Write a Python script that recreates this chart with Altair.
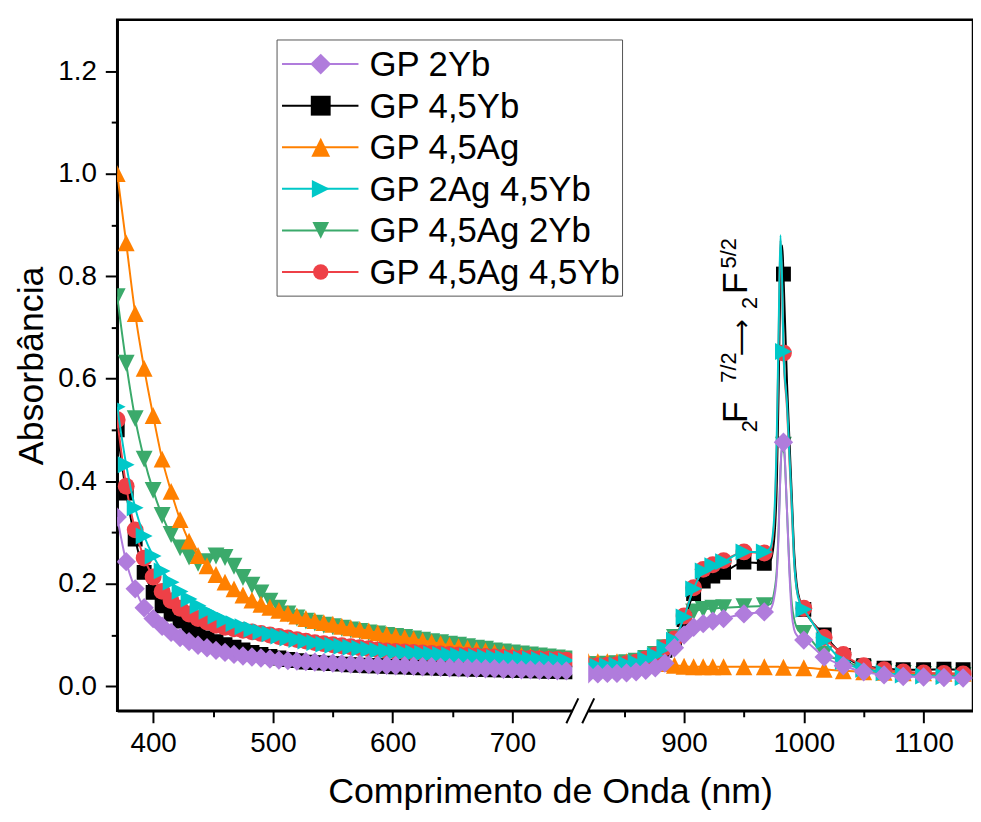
import altair as alt
import pandas as pd

# ---------------- data ----------------
SERIES = ["GP 2Yb", "GP 4,5Yb", "GP 4,5Ag", "GP 2Ag 4,5Yb", "GP 4,5Ag 2Yb", "GP 4,5Ag 4,5Yb"]
COLORS = ["#B07CDC", "#000000", "#FF8000", "#00C8C8", "#3BAA6B", "#EE4047"]
SHAPES = ["diamond", "square", "M0,-1L1,1L-1,1Z", "M-1,-1L1,0L-1,1Z", "M-1,-1L1,-1L0,1Z", "circle"]
SIZES = [380, 225, 289, 289, 289, 289]
LEGEND_SIZES = [440, 240, 320, 320, 320, 300]
DRAW_ORDER = ["GP 4,5Ag 2Yb", "GP 4,5Ag", "GP 4,5Yb", "GP 4,5Ag 4,5Yb", "GP 2Ag 4,5Yb", "GP 2Yb"]

LEFT_NM = [370 + 7.5 * i for i in range(51)]
RIGHT_NM = [820, 828, 836, 844, 852, 860, 868, 876, 884, 892, 900, 908, 916, 924, 933,
            950, 967, 983, 1000, 1017, 1033, 1050, 1067, 1083, 1100, 1117, 1133]
PEAK_NM = [972, 975, 977.5, 979, 980.5, 982, 986, 988, 990, 992, 994, 997]

A_LEFT = {
    "GP 2Yb": [0.330, 0.243, 0.190, 0.153, 0.132, 0.117, 0.105, 0.095, 0.087, 0.080,
               0.075, 0.070, 0.066, 0.062, 0.059, 0.057, 0.055, 0.053, 0.051, 0.050,
               0.049, 0.048, 0.047, 0.046, 0.045, 0.044, 0.043, 0.043, 0.042, 0.041,
               0.041, 0.040, 0.040, 0.039, 0.038, 0.038, 0.037, 0.036, 0.036, 0.035,
               0.035, 0.034, 0.034, 0.033, 0.033, 0.032, 0.032, 0.031, 0.031, 0.030, 0.030],
    "GP 4,5Yb": [0.500, 0.377, 0.287, 0.222, 0.183, 0.157, 0.141, 0.127, 0.114, 0.103,
                 0.094, 0.087, 0.081, 0.076, 0.071, 0.066, 0.062, 0.058, 0.055, 0.052,
                 0.050, 0.047, 0.046, 0.045, 0.044, 0.043, 0.042, 0.041, 0.040, 0.040,
                 0.039, 0.038, 0.038, 0.037, 0.036, 0.036, 0.035, 0.035, 0.034, 0.034,
                 0.033, 0.033, 0.032, 0.032, 0.031, 0.031, 0.030, 0.030, 0.029, 0.029, 0.028],
    "GP 4,5Ag": [1.000, 0.865, 0.727, 0.620, 0.528, 0.443, 0.380, 0.325, 0.283, 0.255,
                 0.235, 0.218, 0.203, 0.190, 0.178, 0.168, 0.160, 0.154, 0.148, 0.142,
                 0.137, 0.132, 0.128, 0.124, 0.121, 0.117, 0.114, 0.111, 0.108, 0.104,
                 0.101, 0.098, 0.095, 0.092, 0.089, 0.086, 0.083, 0.080, 0.077, 0.074,
                 0.071, 0.069, 0.066, 0.064, 0.062, 0.060, 0.058, 0.056, 0.054, 0.052, 0.050],
    "GP 2Ag 4,5Yb": [0.545, 0.432, 0.348, 0.293, 0.254, 0.225, 0.203, 0.185, 0.170, 0.157,
                     0.146, 0.137, 0.129, 0.122, 0.116, 0.111, 0.106, 0.102, 0.098, 0.094,
                     0.091, 0.088, 0.085, 0.082, 0.080, 0.078, 0.076, 0.074, 0.072, 0.070,
                     0.069, 0.067, 0.066, 0.065, 0.064, 0.063, 0.062, 0.061, 0.060, 0.059,
                     0.058, 0.057, 0.056, 0.055, 0.054, 0.053, 0.053, 0.052, 0.051, 0.051, 0.050],
    "GP 4,5Ag 2Yb": [0.760, 0.630, 0.522, 0.443, 0.382, 0.333, 0.296, 0.270, 0.252, 0.240,
                     0.243, 0.254, 0.251, 0.234, 0.212, 0.197, 0.182, 0.166, 0.152, 0.141,
                     0.133, 0.127, 0.123, 0.119, 0.116, 0.113, 0.110, 0.107, 0.104, 0.102,
                     0.099, 0.097, 0.095, 0.092, 0.090, 0.087, 0.085, 0.082, 0.080, 0.077,
                     0.074, 0.072, 0.069, 0.067, 0.065, 0.063, 0.061, 0.059, 0.057, 0.055, 0.053],
    "GP 4,5Ag 4,5Yb": [0.520, 0.390, 0.305, 0.250, 0.213, 0.185, 0.167, 0.152, 0.141, 0.132,
                       0.125, 0.119, 0.115, 0.112, 0.109, 0.106, 0.103, 0.100, 0.097, 0.094,
                       0.091, 0.088, 0.085, 0.083, 0.081, 0.079, 0.077, 0.075, 0.073, 0.071,
                       0.069, 0.068, 0.067, 0.066, 0.065, 0.064, 0.063, 0.062, 0.061, 0.060,
                       0.059, 0.058, 0.057, 0.056, 0.055, 0.054, 0.054, 0.053, 0.052, 0.052, 0.051],
}

A_RIGHT = {
    "GP 2Yb": [0.024, 0.024, 0.025, 0.025, 0.026, 0.028, 0.031, 0.036, 0.045, 0.075,
               0.100, 0.115, 0.122, 0.127, 0.132, 0.141, 0.145, 0.476, 0.090, 0.057,
               0.040, 0.028, 0.022, 0.019, 0.018, 0.017, 0.016],
    "GP 4,5Yb": [0.036, 0.036, 0.037, 0.038, 0.040, 0.043, 0.048, 0.056, 0.070, 0.090,
                 0.130, 0.181, 0.205, 0.215, 0.222, 0.242, 0.240, 0.804, 0.150, 0.100,
                 0.060, 0.040, 0.035, 0.032, 0.032, 0.033, 0.032],
    "GP 4,5Ag": [0.048, 0.048, 0.048, 0.048, 0.048, 0.048, 0.047, 0.046, 0.044, 0.041,
                 0.039, 0.038, 0.038, 0.038, 0.038, 0.038, 0.038, 0.037, 0.036, 0.033,
                 0.030, 0.028, 0.027, 0.026, 0.026, 0.025, 0.025],
    "GP 2Ag 4,5Yb": [0.038, 0.039, 0.040, 0.041, 0.043, 0.046, 0.052, 0.060, 0.074, 0.090,
                     0.135, 0.190, 0.225, 0.235, 0.243, 0.262, 0.262, 0.653, 0.150, 0.089,
                     0.048, 0.033, 0.026, 0.022, 0.020, 0.019, 0.017],
    "GP 4,5Ag 2Yb": [0.042, 0.042, 0.043, 0.044, 0.046, 0.049, 0.054, 0.062, 0.075, 0.095,
                     0.125, 0.145, 0.150, 0.152, 0.153, 0.155, 0.157, 0.470, 0.103, 0.062,
                     0.050, 0.035, 0.028, 0.025, 0.023, 0.022, 0.021],
    "GP 4,5Ag 4,5Yb": [0.040, 0.040, 0.041, 0.042, 0.044, 0.047, 0.053, 0.061, 0.075, 0.092,
                       0.137, 0.192, 0.228, 0.237, 0.245, 0.262, 0.260, 0.650, 0.152, 0.095,
                       0.062, 0.040, 0.032, 0.028, 0.026, 0.025, 0.024],
}

# line-only points around the Yb3+ peak (no markers there)
A_PEAK = {
    "GP 2Yb": [0.150, 0.170, 0.220, 0.300, 0.420, 0.475, 0.340, 0.220, 0.140, 0.110, 0.100, 0.093],
    "GP 4,5Yb": [0.245, 0.280, 0.400, 0.580, 0.800, 0.860, 0.590, 0.480, 0.370, 0.260, 0.200, 0.165],
    "GP 4,5Ag": [0.038, 0.038, 0.038, 0.038, 0.037, 0.037, 0.037, 0.036, 0.036, 0.036, 0.036, 0.036],
    "GP 2Ag 4,5Yb": [0.270, 0.320, 0.500, 0.700, 0.880, 0.780, 0.550, 0.450, 0.350, 0.240, 0.190, 0.160],
    "GP 4,5Ag 2Yb": [0.160, 0.180, 0.230, 0.310, 0.420, 0.470, 0.340, 0.230, 0.160, 0.130, 0.115, 0.105],
    "GP 4,5Ag 4,5Yb": [0.266, 0.310, 0.480, 0.680, 0.870, 0.770, 0.540, 0.440, 0.340, 0.240, 0.190, 0.165],
}

X_TICK_NM = [400, 450, 500, 550, 600, 650, 700, 850, 900, 950, 1000, 1050, 1100]
Y_TICKS = [round(0.1 * i, 1) for i in range(13)]

BREAK_LO, BREAK_HI = 750, 820
GAP = 13.25                     # width of the axis break, in axis units
SHIFT = BREAK_HI - BREAK_LO - GAP


def axis_pos(nm):
    return nm if nm <= BREAK_LO else nm - SHIFT


# annotation pieces: text, wavelength-axis position, absorbance, font size
ANNOT_TEXT = ["2", "F", "7/2", "2", "F", "5/2"]
ANNOT_T = [904.4, 896.1, 887.0, 904.4, 896.1, 887.0]
ANNOT_A = [0.4956, 0.513, 0.592, 0.7357, 0.7648, 0.8151]
ANNOT_FS = [22, 36, 22, 22, 36, 22]
ARROW_TEXT = ["\u27f6"]
ARROW_T = [898.3]
ARROW_A = [0.6430]
ARROW_FS = [26]

# ---------------- tables ----------------
rows = []
for s in SERIES:
    for nm, a in zip(LEFT_NM, A_LEFT[s]):
        rows.append({"series": s, "nm": nm, "A": a, "seg": "L", "marker": True})
    for nm, a in zip(RIGHT_NM, A_RIGHT[s]):
        rows.append({"series": s, "nm": nm, "A": a, "seg": "R", "marker": True})
    for nm, a in zip(PEAK_NM, A_PEAK[s]):
        rows.append({"series": s, "nm": nm, "A": a, "seg": "R", "marker": False})
df = pd.DataFrame(rows).sort_values(["series", "nm"]).reset_index(drop=True)
df["t"] = df["nm"].apply(axis_pos)

annot_df = pd.DataFrame({"txt": ANNOT_TEXT, "t": ANNOT_T, "A": ANNOT_A, "fs": ANNOT_FS})
arrow_df = pd.DataFrame({"txt": ARROW_TEXT, "t": ARROW_T, "A": ARROW_A, "fs": ARROW_FS})
legend_df = pd.DataFrame({"series": SERIES})
break_df = pd.DataFrame({"a": [axis_pos(BREAK_LO)], "b": [axis_pos(BREAK_HI)]})
slash_df = pd.DataFrame({"b": [axis_pos(BREAK_LO), axis_pos(BREAK_HI)]})

# ---------------- scales / axes ----------------
W, H = 862, 696
FONT = "Liberation Sans"
xscale = alt.Scale(domain=[370, axis_pos(1141.25)], nice=False, zero=False)
yscale = alt.Scale(domain=[-0.048, 1.30], nice=False, zero=False)

x_major = f"(datum.value < 760 ? datum.value : datum.value + {SHIFT}) % 100 == 0"
xaxis = alt.Axis(
    values=[axis_pos(v) for v in X_TICK_NM],
    labelExpr=f"{x_major} ? format(datum.value < 760 ? datum.value : datum.value + {SHIFT}, 'd') : ''",
    tickSize={"condition": {"test": x_major, "value": 12}, "value": 6},
    title="Comprimento de Onda (nm)",
    titleX=436, titleY=92, titleBaseline="alphabetic", titleAlign="center",
    labelPadding=7, grid=False,
)
y_major = "round(datum.value * 10) % 2 == 0"
yaxis = alt.Axis(
    values=Y_TICKS,
    labelExpr=f"{y_major} ? format(datum.value, '.1f') : ''",
    tickSize={"condition": {"test": y_major, "value": 12}, "value": 6},
    title="Absorbância",
    titleX=-75, titleY=H / 2, titleBaseline="alphabetic", titleAlign="center", titleAngle=270,
    labelPadding=9, grid=False,
)

X = alt.X("t:Q", scale=xscale, axis=xaxis)
Y = alt.Y("A:Q", scale=yscale, axis=yaxis)
color = alt.Color("series:N", scale=alt.Scale(domain=SERIES, range=COLORS), legend=None)

base = alt.Chart(df)
layers = []
for s in DRAW_ORDER:
    i = SERIES.index(s)
    sub = base.transform_filter(alt.datum.series == s)
    layers.append(
        sub.mark_line(strokeWidth=2, interpolate="monotone", clip=True)
        .encode(x=X, y=Y, color=color, detail="seg:N", order="nm:Q")
    )
    layers.append(
        sub.transform_filter(alt.datum.marker == True)
        .mark_point(filled=True, opacity=1, strokeWidth=0, size=SIZES[i], shape=SHAPES[i], clip=True)
        .encode(x=X, y=Y, color=color)
    )

brk = alt.Chart(break_df).mark_rect(color="white").encode(
    x=alt.X("a:Q", scale=xscale, axis=xaxis), x2="b:Q", y=alt.value(3), y2=alt.value(H + 3)
)
slashes = (
    alt.Chart(slash_df)
    .transform_calculate(s1="datum.b - 5", s2="datum.b + 5")
    .mark_rule(color="black", strokeWidth=2)
    .encode(x=alt.X("s1:Q", scale=xscale, axis=xaxis), x2="s2:Q",
            y=alt.value(H + 12.5), y2=alt.value(H - 12.5))
)
annot = alt.Chart(annot_df).mark_text(
    angle=270, align="left", baseline="alphabetic", font=FONT, color="black"
).encode(
    x=alt.X("t:Q", scale=xscale, axis=xaxis), y=alt.Y("A:Q", scale=yscale, axis=yaxis),
    text="txt:N", size=alt.Size("fs:Q", scale=None),
)
arrow = alt.Chart(arrow_df).mark_text(
    angle=270, align="left", baseline="alphabetic", font="DejaVu Sans", color="black"
).encode(
    x=alt.X("t:Q", scale=xscale, axis=xaxis), y=alt.Y("A:Q", scale=yscale, axis=yaxis),
    text="txt:N", size=alt.Size("fs:Q", scale=None),
)

main = alt.layer(*layers, brk, slashes, annot, arrow)

# ---------------- legend (drawn with marks) ----------------
leg_y = alt.Y("series:N", scale=alt.Scale(type="point", domain=SERIES, range=[44.6, 254.0], padding=0), axis=None)
leg_src = alt.Chart(legend_df)
frame = alt.Chart(pd.DataFrame({"f": [1]})).mark_rect(fill="white", stroke="#555555", strokeWidth=1).encode(
    x=alt.value(161), x2=alt.value(509), y=alt.value(20.3), y2=alt.value(278.3)
)
leg_line = leg_src.mark_rule(strokeWidth=2).encode(
    x=alt.value(166), x2=alt.value(243), y=leg_y, color=color
)
leg_pt = leg_src.mark_point(filled=True, opacity=1, strokeWidth=0).encode(
    x=alt.value(205), y=leg_y, color=color,
    shape=alt.Shape("series:N", scale=alt.Scale(domain=SERIES, range=SHAPES), legend=None),
    size=alt.Size("series:O", scale=alt.Scale(domain=SERIES, range=LEGEND_SIZES), legend=None),
)
leg_txt = leg_src.mark_text(align="left", baseline="middle", fontSize=35, font=FONT, color="black", dy=1).encode(
    x=alt.value(254), y=leg_y, text="series:N"
)
legend = alt.layer(frame, leg_line, leg_pt, leg_txt)

chart = (
    alt.layer(main, legend)
    .resolve_scale(y="independent")
    .properties(
        width=W, height=H,
        padding={"left": 110, "top": 9, "right": 0, "bottom": 100},
        autosize=alt.AutoSizeParams(type="none"),
        background="white",
    )
    .configure_view(stroke="black", strokeWidth=2.5)
    .configure_axis(
        domainColor="black", domainWidth=2.5, tickColor="black", tickWidth=2,
        labelFont=FONT, labelFontSize=28, labelColor="black",
        titleFont=FONT, titleFontSize=36, titleFontWeight="normal", titleColor="black",
    )
)

chart.save("out.html", embed_options={"renderer": "svg", "actions": False})
